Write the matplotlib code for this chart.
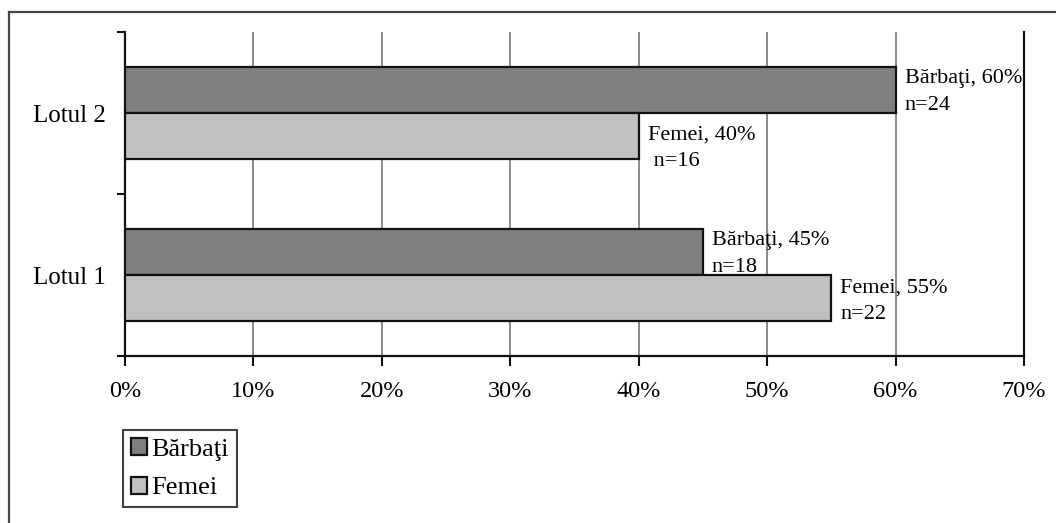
import matplotlib
matplotlib.use("Agg")
import matplotlib.pyplot as plt
from matplotlib.lines import Line2D
from matplotlib.ticker import FixedLocator, PercentFormatter

plt.rcParams['font.family'] = ['Liberation Serif', 'DejaVu Serif']

groups = ["Lotul 1", "Lotul 2"]
series = ["Bărbaţi", "Femei"]
barbati_pct = [45, 60]
femei_pct = [55, 40]
barbati_n = [18, 24]
femei_n = [22, 16]
x_ticks = [0, 10, 20, 30, 40, 50, 60, 70]

dark = "#808083"
light = "#c0c0c3"

fig = plt.figure(figsize=(10.56, 5.23), dpi=100)
ax = fig.add_axes([0.1184, 0.3193, 0.8513, 0.6195])

h = 0.284
pos = list(range(len(groups)))
b1 = ax.barh([p + h / 2 for p in pos], barbati_pct, height=h, color=dark,
             edgecolor="#111111", linewidth=1.6, label=series[0], zorder=3)
b2 = ax.barh([p - h / 2 for p in pos], femei_pct, height=h, color=light,
             edgecolor="#111111", linewidth=1.6, label=series[1], zorder=3)

fs = 16
ls = 1.52
for p, v, n in zip(pos, barbati_pct, barbati_n):
    ax.text(v + 0.7, p + h / 2 - 0.012, f"{series[0]}, {v}%\nn={n}", ha="left",
            va="center", fontsize=fs, linespacing=ls, zorder=4)
for p, v, n in zip(pos, femei_pct, femei_n):
    extra = " " if v < 50 else ""
    dy = -0.075 if v < 50 else -0.022
    ax.text(v + 0.7, p - h / 2 + dy, f"{series[1]}, {v}%\n{extra}n={n}", ha="left",
            va="center", fontsize=fs, linespacing=ls, zorder=4)

ax.set_xlim(0, 70)
ax.set_ylim(-0.5, 1.5)
ax.set_xticks(x_ticks)
ax.xaxis.set_major_formatter(PercentFormatter(decimals=0))
ax.tick_params(axis="x", direction="out", length=7, width=1.5, color="#111111",
               labelsize=17.5, pad=11)
ax.yaxis.set_major_locator(FixedLocator([-0.5, 0.5, 1.5]))
ax.yaxis.set_minor_locator(FixedLocator(pos))
ax.set_yticklabels([], minor=False)
ax.set_yticklabels(groups, minor=True)
ax.tick_params(axis="y", which="major", direction="out", length=6, width=1.5,
               color="#111111")
ax.tick_params(axis="y", which="minor", length=0, labelsize=18, pad=14)

for x in x_ticks[1:-1]:
    ax.axvline(x, color="#8a8a8a", linewidth=1.4, zorder=1)

ax.spines["top"].set_visible(False)
for s in ["left", "bottom", "right"]:
    ax.spines[s].set_linewidth(1.6)
    ax.spines[s].set_color("#111111")

leg = ax.legend(handles=[b1, b2], loc="upper left", fontsize=19, frameon=True,
                fancybox=False, edgecolor="#111111", borderpad=0.3,
                handlelength=0.62, handleheight=0.62, handletextpad=0.15,
                labelspacing=0.6, borderaxespad=0)
leg.get_frame().set_linewidth(1.5)
leg.set_bbox_to_anchor((123 / 1056, 1 - 430 / 523), transform=fig.transFigure)

# outer frame: left and top edges
fig.add_artist(Line2D([9 / 1056, 9 / 1056], [0, 1 - 12 / 523], transform=fig.transFigure,
                      color="#444444", linewidth=1.6))
fig.add_artist(Line2D([9 / 1056, 1], [1 - 12 / 523, 1 - 12 / 523], transform=fig.transFigure,
                      color="#444444", linewidth=1.6))

fig.savefig("out.png", dpi=100)
